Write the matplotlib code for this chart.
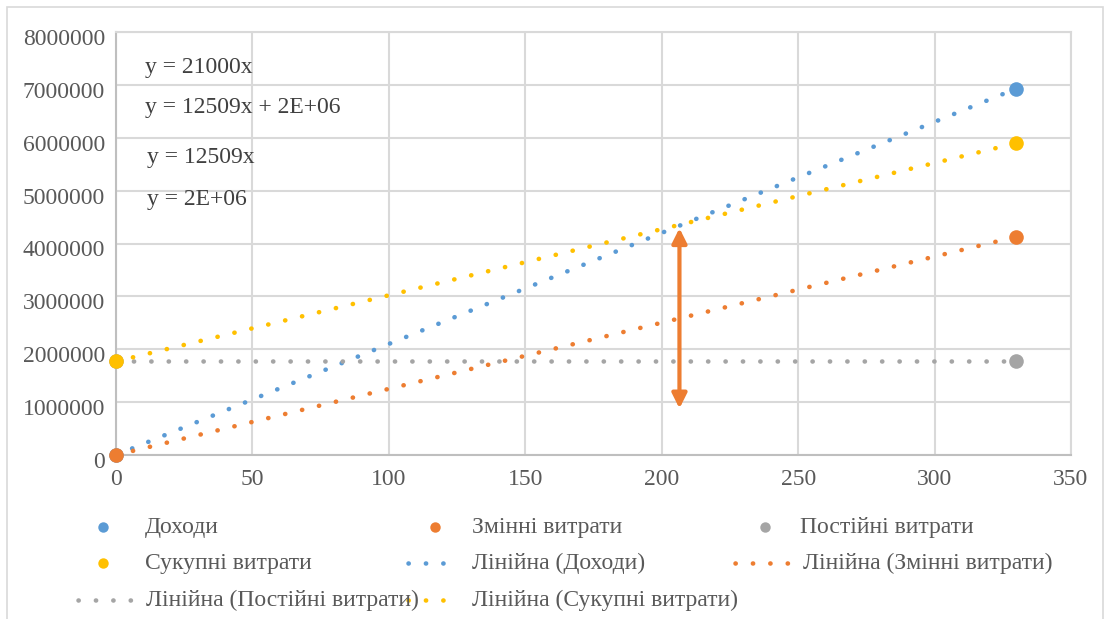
import numpy as np
import matplotlib
matplotlib.use("Agg")
import matplotlib.pyplot as plt
import matplotlib.transforms as mtransforms
from matplotlib.lines import Line2D
from matplotlib.patches import Rectangle

# ---- data ----
x_points = [0, 330]
revenue = [0, 6930000]            # Доходи
variable_costs = [0, 4128000]     # Змінні витрати
fixed_costs = [1770000, 1770000]  # Постійні витрати
total_costs = [1770000, 5898000]  # Сукупні витрати

series_names = ["Доходи", "Змінні витрати", "Постійні витрати", "Сукупні витрати"]
equations = ["y = 21000x", "y = 12509x + 2E+06", "y = 12509x", "y = 2E+06"]
x_ticks = [0, 50, 100, 150, 200, 250, 300, 350]
y_ticks = [0, 1000000, 2000000, 3000000, 4000000, 5000000, 6000000, 7000000, 8000000]
breakeven_x = 206.5
arrow_y = [880000, 4290000]

colors = ["#5B9BD5", "#ED7D31", "#A5A5A5", "#FFC000"]
series = [revenue, variable_costs, fixed_costs, total_costs]

plt.rcParams['font.family'] = ['Liberation Serif', 'DejaVu Serif']
FS = 17
TXT = "#595959"
GRID = "#D9D9D9"

fig = plt.figure(figsize=(11.12, 6.19), dpi=100)
W, H = 1112, 619
ax = fig.add_axes([116 / W, 1 - 455 / H, (1071 - 116) / W, (455 - 32) / H])

LW = 3.3
period_px = 17.4
dash = (0.05, period_px / (LW * 100 / 72) - 0.05)

# trend lines
xs = np.linspace(0, 330, 200)
for ys, c in zip(series, colors):
    k, b = np.polyfit(x_points, ys, 1)
    ax.plot(xs, k * xs + b, color=c, lw=LW, dashes=dash, dash_capstyle='round',
            zorder=3)

# markers
for ys, c in zip(series, colors):
    ax.plot(x_points, ys, 'o', color=c, ms=10.5, mew=0, zorder=4, clip_on=False)

# arrow
ax.annotate("", xy=(breakeven_x, arrow_y[1]), xytext=(breakeven_x, arrow_y[0]),
            arrowprops=dict(arrowstyle='<|-|>', color="#ED7D31", lw=3,
                            mutation_scale=22, shrinkA=0, shrinkB=0), zorder=5)

ax.set_xlim(0, 350)
ax.set_ylim(0, 8000000)
ax.set_xticks(x_ticks)
ax.set_yticks(y_ticks)
ax.set_xticklabels([str(v) for v in x_ticks])
ax.set_yticklabels([str(v) for v in y_ticks])
ax.tick_params(length=0, labelsize=FS, labelcolor=TXT)
ax.tick_params(axis='x', pad=10)
ax.tick_params(axis='y', pad=8)
offset = mtransforms.ScaledTranslation(0, -5 / 100, fig.dpi_scale_trans)
for lab in ax.get_yticklabels():
    lab.set_transform(lab.get_transform() + offset)
ax.grid(True, color=GRID, lw=1.5)
ax.set_axisbelow(True)
for s in ax.spines.values():
    s.set_color(GRID)
    s.set_linewidth(1.5)
ax.spines['left'].set_color("#BFBFBF")
ax.spines['bottom'].set_color("#BFBFBF")

# equation labels
eq_pos = [(145, 67), (145, 108), (147, 157), (147, 200)]
for (px, py), t in zip(eq_pos, equations):
    fig.text(px / W, 1 - py / H, t, fontsize=FS, color="#404040", va='center', ha='left')

# legend (manual)
def fx(px):
    return px / W

def fy(py):
    return 1 - py / H

def marker_entry(mx, tx, y, c, label):
    fig.add_artist(Line2D([fx(mx)], [fy(y)], marker='o', color=c, ms=7.5, mew=0,
                          transform=fig.transFigure))
    fig.text(fx(tx), fy(y), label, fontsize=FS, color=TXT, va='center', ha='left')

def line_entry(x0, x1, tx, y, c, label):
    fig.add_artist(Line2D([fx(x0), fx(x1)], [fy(y), fy(y)], color=c, lw=LW,
                          dashes=dash, dash_capstyle='round',
                          transform=fig.transFigure))
    fig.text(fx(tx), fy(y), label, fontsize=FS, color=TXT, va='center', ha='left')

marker_entry(103, 145, 527, colors[0], series_names[0])
marker_entry(435, 472, 527, colors[1], series_names[1])
marker_entry(765, 800, 527, colors[2], series_names[2])
marker_entry(103, 145, 563, colors[3], series_names[3])
line_entry(408, 445, 472, 563, colors[0], "Лінійна (" + series_names[0] + ")")
line_entry(735, 792, 803, 563, colors[1], "Лінійна (" + series_names[1] + ")")
line_entry(78, 134, 146, 600, colors[2], "Лінійна (" + series_names[2] + ")")
line_entry(408, 458, 472, 600, colors[3], "Лінійна (" + series_names[3] + ")")

# chart border
fig.add_artist(Rectangle((7 / W, -0.01), (1103 - 7) / W, 1 - 7 / H + 0.01,
                         transform=fig.transFigure, fill=False, ec=GRID, lw=1.2))

fig.savefig("out.png", dpi=100, facecolor="white")
